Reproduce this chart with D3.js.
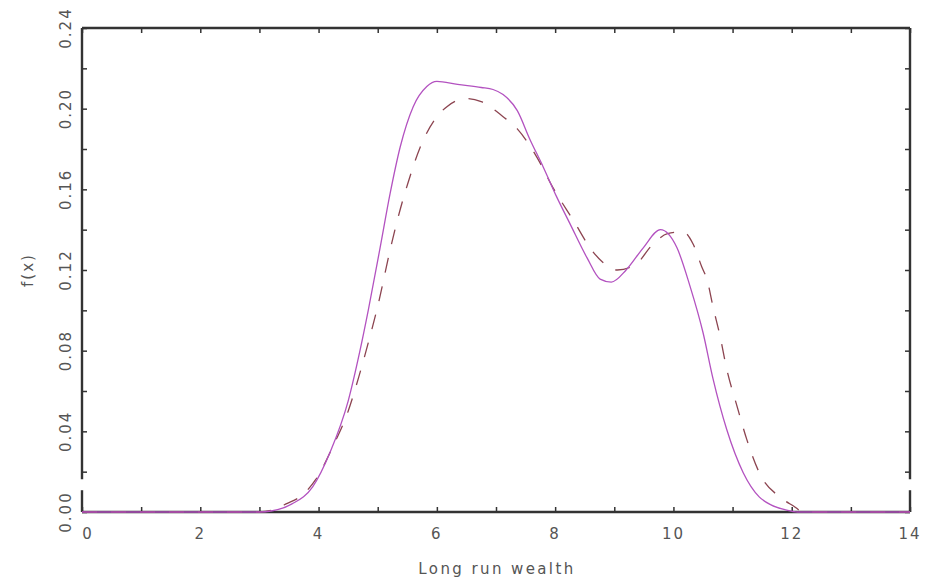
<!DOCTYPE html>
<html>
<head>
<meta charset="utf-8">
<script src="https://cdn.jsdelivr.net/npm/d3@7"></script>
<style>
  body { margin: 0; background: #fff; }
  text { font-family: "DejaVu Sans", sans-serif; fill: #555; }
</style>
</head>
<body>
<div id="chart"></div>
<script>
const solidX = [0, 1, 2, 3.0, 3.2, 3.55, 3.9, 4.2, 4.5, 4.7, 4.84, 5.04, 5.21, 5.38, 5.6, 5.83, 6.0, 6.35, 6.75, 6.95, 7.12, 7.36, 7.57, 7.8, 8.03, 8.25, 8.54, 8.76, 8.95, 9.2, 9.49, 9.78, 10.06, 10.28, 10.5, 10.67, 10.9, 11.18, 11.45, 11.65, 11.9, 12.1, 13, 14];
const solidY = [0, 0, 0, 0, 0.0005, 0.004, 0.0125, 0.03, 0.055, 0.08, 0.1, 0.131, 0.158, 0.181, 0.201, 0.211, 0.2135, 0.212, 0.2105, 0.2095, 0.207, 0.199, 0.185, 0.171, 0.156, 0.143, 0.126, 0.1155, 0.114, 0.12, 0.131, 0.14, 0.131, 0.112, 0.089, 0.066, 0.041, 0.0195, 0.0075, 0.0035, 0.001, 0, 0, 0];

const dashX = [0, 1, 2, 3.0, 3.2, 3.45, 3.75, 3.95, 4.25, 4.5, 4.68, 4.85, 5.0, 5.21, 5.38, 5.51, 5.72, 6.0, 6.17, 6.5, 6.75, 7.12, 7.36, 7.69, 7.96, 8.3, 8.64, 8.8, 9.05, 9.35, 9.66, 9.9, 10.16, 10.33, 10.48, 10.57, 10.67, 10.79, 10.9, 11.07, 11.24, 11.46, 11.8, 12.03, 12.2, 13, 14];
const dashY = [0, 0, 0, 0, 0.0008, 0.004, 0.009, 0.016, 0.033, 0.05, 0.067, 0.085, 0.102, 0.13, 0.15, 0.163, 0.181, 0.196, 0.201, 0.205, 0.2035, 0.196, 0.19, 0.176, 0.161, 0.145, 0.129, 0.124, 0.12, 0.1225, 0.133, 0.138, 0.139, 0.133, 0.1215, 0.115, 0.1017, 0.087, 0.071, 0.053, 0.036, 0.019, 0.0074, 0.003, 0, 0, 0];

const xTicks = d3.range(0, 15, 1);
const xLabels = [0, 2, 4, 6, 8, 10, 12, 14];
const yTicks = d3.range(0, 0.2401, 0.02);
const yLabels = [0, 0.04, 0.08, 0.12, 0.16, 0.20, 0.24];

const width = 926, height = 585;
const mLeft = 82, mRight = 910, mTop = 28, mBottom = 512;

const svg = d3.select("#chart").append("svg")
    .attr("width", width)
    .attr("height", height);

const x = d3.scaleLinear().domain([0, 14]).range([mLeft, mRight]);
const y = d3.scaleLinear().domain([0, 0.24]).range([mBottom, mTop]);

const axisColor = "#333";

// ticks pointing inwards on all four sides
const gBottom = svg.append("g").attr("transform", `translate(0,${mBottom})`)
    .call(d3.axisBottom(x).tickValues(xTicks).tickSize(-5).tickFormat(""));
const gTop = svg.append("g").attr("transform", `translate(0,${mTop})`)
    .call(d3.axisTop(x).tickValues(xTicks).tickSize(-5).tickFormat(""));
const gLeft = svg.append("g").attr("transform", `translate(${mLeft},0)`)
    .call(d3.axisLeft(y).tickValues(yTicks).tickSize(-5).tickFormat(""));
const gRight = svg.append("g").attr("transform", `translate(${mRight},0)`)
    .call(d3.axisRight(y).tickValues(yTicks).tickSize(-5).tickFormat(""));

[gBottom, gTop, gLeft, gRight].forEach(g => {
    g.select(".domain").remove();
    g.selectAll(".tick line").attr("stroke", axisColor).attr("stroke-width", 1.5);
});

// frame; the side lines have a small break just above zero
const gapLo = y(0.0108), gapHi = y(0.0162);
const frame = [
    [[mLeft, mTop], [mRight, mTop]],
    [[mLeft, mBottom], [mRight, mBottom]],
    [[mLeft, mTop], [mLeft, gapHi]],
    [[mLeft, gapLo], [mLeft, mBottom]],
    [[mRight, mTop], [mRight, gapHi]],
    [[mRight, gapLo], [mRight, mBottom]]
];
svg.append("g").selectAll("line")
    .data(frame)
    .enter()
    .append("line")
    .attr("x1", d => d[0][0]).attr("y1", d => d[0][1])
    .attr("x2", d => d[1][0]).attr("y2", d => d[1][1])
    .attr("stroke", axisColor)
    .attr("stroke-width", 2.4);

// x tick labels
svg.append("g").selectAll("text")
    .data(xLabels)
    .enter()
    .append("text")
    .attr("x", d => x(d) + (d === 0 ? 6 : 0))
    .attr("y", 539)
    .attr("text-anchor", "middle")
    .attr("font-size", "15px")
    .attr("letter-spacing", "2px")
    .text(d => d);

// y tick labels, rotated
svg.append("g").selectAll("text")
    .data(yLabels)
    .enter()
    .append("text")
    .attr("transform", d => `translate(71,${y(d)}) rotate(-90)`)
    .attr("text-anchor", "middle")
    .attr("font-size", "15px")
    .attr("letter-spacing", "2px")
    .text(d => d3.format(".2f")(d));

svg.append("text")
    .attr("x", 497)
    .attr("y", 574)
    .attr("text-anchor", "middle")
    .attr("font-size", "15px")
    .attr("letter-spacing", "2.4px")
    .text("Long run wealth");

svg.append("text")
    .attr("transform", `translate(33,${(mTop + mBottom) / 2}) rotate(-90)`)
    .attr("text-anchor", "middle")
    .attr("font-size", "15px")
    .attr("letter-spacing", "2px")
    .text("f(x)");

const line = d3.line()
    .x(d => x(d[0]))
    .y(d => y(d[1]))
    .curve(d3.curveMonotoneX);

svg.append("path")
    .attr("d", line(d3.zip(dashX, dashY)))
    .attr("fill", "none")
    .attr("stroke", "#8c4450")
    .attr("stroke-width", 1.3)
    .attr("stroke-dasharray", "15,14");

svg.append("path")
    .attr("d", line(d3.zip(solidX, solidY)))
    .attr("fill", "none")
    .attr("stroke", "#b352c0")
    .attr("stroke-width", 1.3);
</script>
</body>
</html>
